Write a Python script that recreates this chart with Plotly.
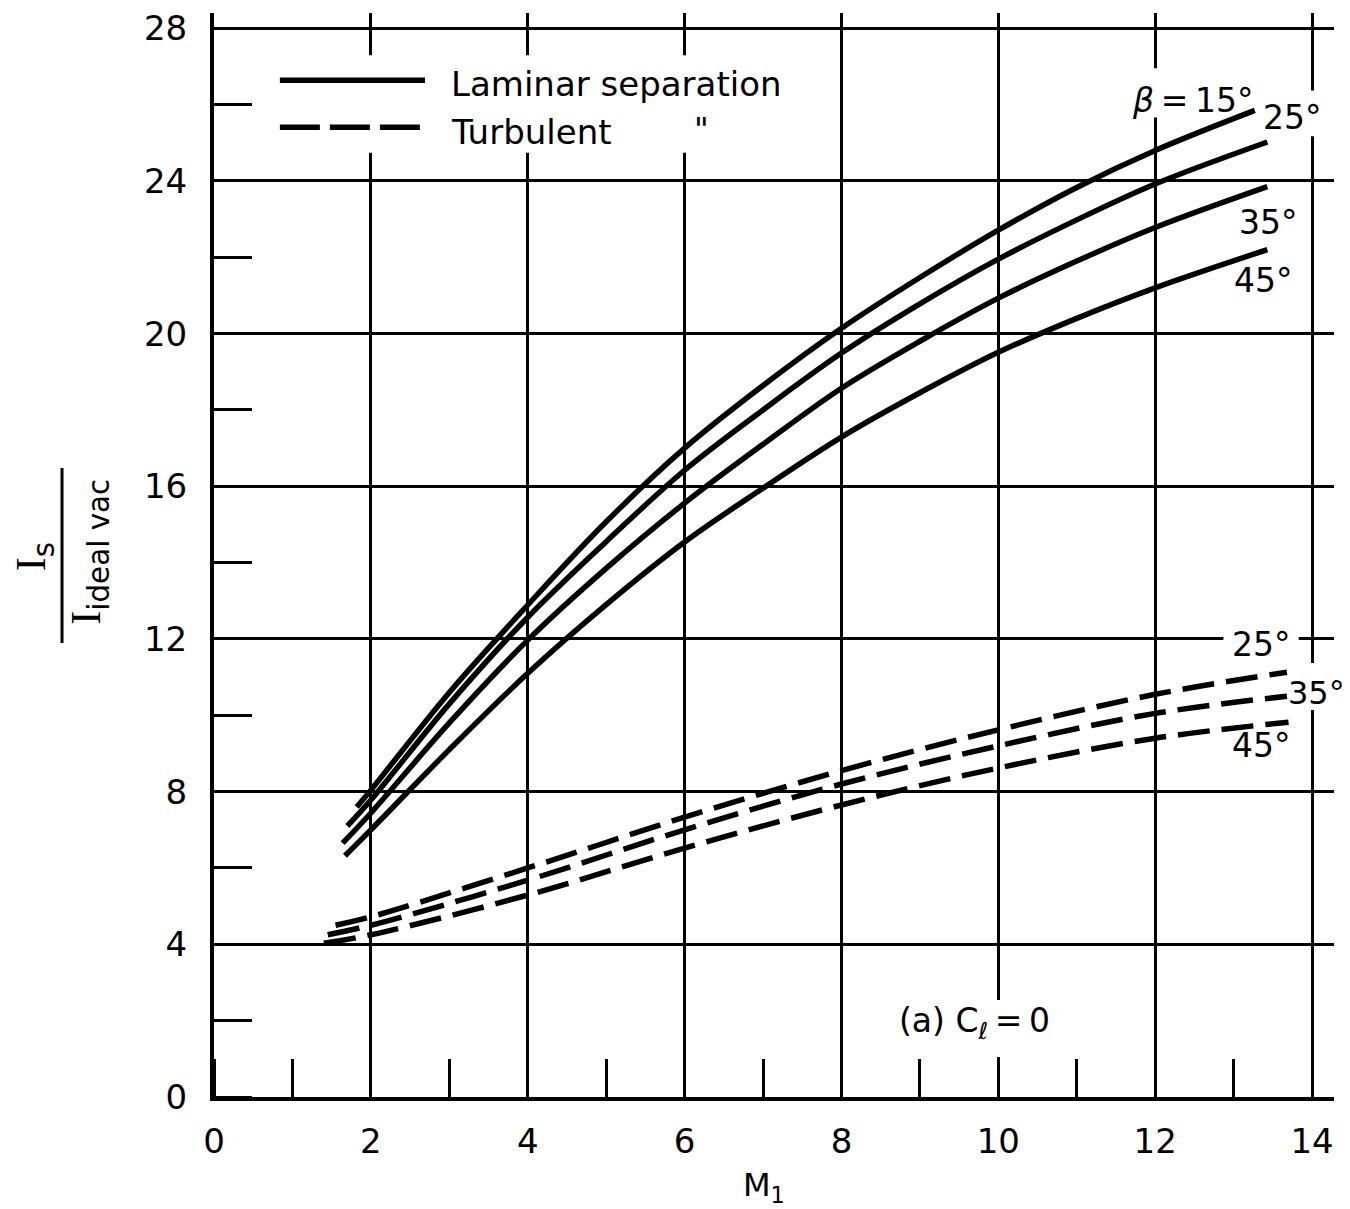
import plotly.graph_objects as go

# ---------------- data ----------------
# Laminar separation (solid)
M_lam_15 = [1.82, 2, 3, 4, 5, 6, 7, 8, 9, 10, 11, 12, 13.27]
I_lam_15 = [7.6, 8.04, 10.6, 12.89, 15.07, 17.0, 18.64, 20.14, 21.47, 22.71, 23.83, 24.8, 25.85]
M_lam_25 = [1.70, 2, 3, 4, 5, 6, 7, 8, 9, 10, 11, 12, 13.43]
I_lam_25 = [7.1, 7.78, 10.3, 12.57, 14.55, 16.42, 18.0, 19.49, 20.78, 21.95, 22.98, 23.92, 25.02]
M_lam_35 = [1.64, 2, 3, 4, 5, 6, 7, 8, 9, 10, 11, 12, 13.43]
I_lam_35 = [6.65, 7.44, 9.8, 11.97, 13.85, 15.56, 17.1, 18.57, 19.8, 20.93, 21.9, 22.78, 23.85]
M_lam_45 = [1.67, 2, 3, 4, 5, 6, 7, 8, 9, 10, 11, 12, 13.43]
I_lam_45 = [6.32, 7.0, 9.1, 11.1, 12.9, 14.54, 15.95, 17.29, 18.45, 19.51, 20.4, 21.2, 22.2]

# Turbulent separation (dashed)
M_turb_25 = [1.55, 2, 4, 6, 8, 10, 12, 13.68]
I_turb_25 = [4.5, 4.72, 6.0, 7.33, 8.55, 9.62, 10.55, 11.13]
M_turb_35 = [1.45, 2, 4, 6, 8, 10, 12, 13.68]
I_turb_35 = [4.25, 4.5, 5.68, 7.0, 8.2, 9.2, 10.05, 10.5]
M_turb_45 = [1.40, 2, 4, 6, 8, 10, 12, 13.70]
I_turb_45 = [4.03, 4.25, 5.29, 6.52, 7.65, 8.62, 9.4, 9.82]

x_ticks = [0, 2, 4, 6, 8, 10, 12, 14]
y_ticks = [0, 4, 8, 12, 16, 20, 24, 28]

FONT = "DejaVu Sans"
LW = 5.5

fig = go.Figure()

solid = [(M_lam_15, I_lam_15, "β = 15°"), (M_lam_25, I_lam_25, "25°"),
         (M_lam_35, I_lam_35, "35°"), (M_lam_45, I_lam_45, "45°")]
for mx, iy, nm in solid:
    fig.add_trace(go.Scatter(x=mx, y=iy, mode="lines", name="Laminar " + nm,
                             line=dict(color="black", width=LW, shape="spline", smoothing=1.0),
                             showlegend=False, hoverinfo="skip"))

dashed = [(M_turb_25, I_turb_25, "25°"), (M_turb_35, I_turb_35, "35°"),
          (M_turb_45, I_turb_45, "45°")]
for mx, iy, nm in dashed:
    fig.add_trace(go.Scatter(x=mx, y=iy, mode="lines", name="Turbulent " + nm,
                             line=dict(color="black", width=LW, shape="spline", smoothing=1.0,
                                       dash="32px,12px"),
                             showlegend=False, hoverinfo="skip"))

# white patches that interrupt the grid behind labels (above grid, below curves)
patches = [
    (0.55, 7.43, 24.74, 27.29),   # legend
    (11.70, 13.23, 25.66, 26.95),  # beta = 15
    (13.33, 14.19, 25.17, 26.37),  # laminar 25
    (12.87, 13.83, 11.39, 12.36),  # turbulent 25
    (13.80, 14.44, 10.14, 11.37),  # turbulent 35
    (8.58, 10.81, 1.05, 2.54),     # (a) C_l = 0
]
for x0, x1, y0, y1 in patches:
    fig.add_shape(type="rect", xref="x", yref="y", x0=x0, x1=x1, y0=y0, y1=y1,
                  fillcolor="white", line=dict(width=0), layer="between")

# legend keys
fig.add_shape(type="line", xref="x", yref="y", x0=0.84, x1=2.69, y0=26.64, y1=26.64,
              line=dict(color="black", width=LW), layer="above")
fig.add_shape(type="line", xref="x", yref="y", x0=0.84, x1=2.69, y0=25.41, y1=25.41,
              line=dict(color="black", width=LW, dash="40px,10px"), layer="above")

ann = []
def txt(x, y, s, size=32, xanchor="center", xref="x", yref="y", angle=0):
    ann.append(dict(x=x, y=y, xref=xref, yref=yref, text=s, showarrow=False,
                    xanchor=xanchor, yanchor="middle", textangle=angle,
                    font=dict(family=FONT, size=size, color="black")))

txt(3.0, 26.53, "Laminar separation", size=34, xanchor="left")
txt(3.0, 25.27, "Turbulent", size=34, xanchor="left")
txt(6.22, 25.35, '"', size=32)
txt(12.48, 26.11, "<i>β</i>\u2009=\u200915°", size=33)
txt(13.75, 25.67, "25°", size=33)
txt(13.44, 22.92, "35°", size=33)
txt(13.38, 21.40, "45°", size=33)
txt(13.35, 11.86, "25°", size=33)
txt(14.06, 10.58, "35°", size=32)
txt(13.35, 9.22, "45°", size=33)
txt(9.69, 1.96, "(a) C<sub>ℓ</sub>\u2009=\u20090", size=33)

# axis titles
txt(0.491, -0.083, "M<sub>1</sub>", size=32, xref="paper", yref="paper")
txt(-0.1607, 0.498, '<span style="font-family:Liberation Serif">I</span><sub>s</sub>', size=42,
    xref="paper", yref="paper", angle=-90)
txt(-0.1107, 0.503, '<span style="font-family:Liberation Serif">I</span><sub>ideal vac</sub>', size=42,
    xref="paper", yref="paper", angle=-90)
fig.add_shape(type="line", xref="paper", yref="paper", x0=-0.1357, x1=-0.1357,
              y0=0.4188, y1=0.5803, line=dict(color="black", width=3))

fig.update_layout(
    width=1350, height=1209,
    margin=dict(l=206, r=24, t=5, b=120, autoexpand=False),
    paper_bgcolor="white", plot_bgcolor="white",
    annotations=ann,
    font=dict(family=FONT, color="black"),
    xaxis=dict(range=[0, 14.28], tickvals=x_ticks, ticktext=[str(v) for v in x_ticks],
               showgrid=True, gridcolor="black", gridwidth=3, automargin=False,
               showline=True, linecolor="black", linewidth=4, zeroline=False,
               ticks="", ticklabelstandoff=11,
               tickfont=dict(family=FONT, size=34, color="black"),
               minor=dict(dtick=1, tick0=0, ticks="inside", ticklen=38, tickwidth=3,
                          tickcolor="black", showgrid=False)),
    yaxis=dict(range=[0, 28.4], tickvals=y_ticks, ticktext=[str(v) for v in y_ticks],
               showgrid=True, gridcolor="black", gridwidth=3, automargin=False,
               showline=True, linecolor="black", linewidth=4, zeroline=False,
               ticks="", ticklabelstandoff=16,
               tickfont=dict(family=FONT, size=34, color="black"),
               minor=dict(dtick=2, tick0=0, ticks="inside", ticklen=38, tickwidth=3,
                          tickcolor="black", showgrid=False)),
)

fig.write_html("out.html")
